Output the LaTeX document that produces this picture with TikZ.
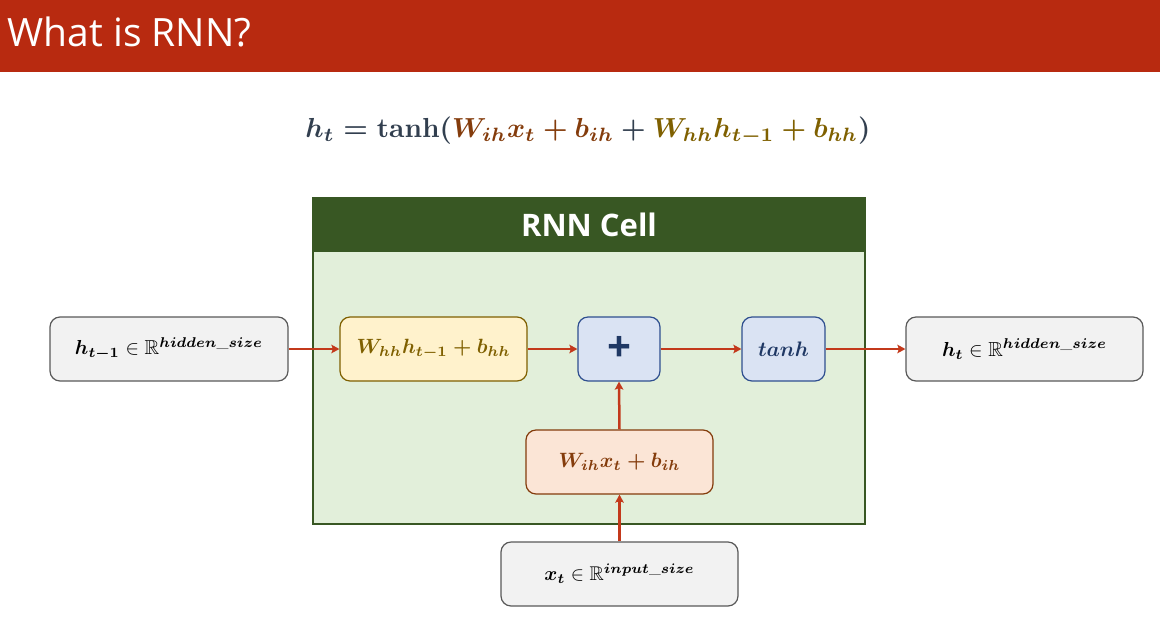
\documentclass[tikz,border=0pt]{standalone}
\usepackage{amsmath,amssymb}
\usepackage{graphicx}
\usepackage{fontspec}
\newfontfamily\titlefont{Open Sans}
\usetikzlibrary{arrows.meta}
\definecolor{hdrred}{HTML}{B82A10}
\definecolor{cellgreen}{HTML}{385723}
\definecolor{cellfill}{HTML}{E2EFDA}
\definecolor{graybox}{HTML}{F2F2F2}
\definecolor{grayline}{HTML}{595959}
\definecolor{yelfill}{HTML}{FFF2CC}
\definecolor{olivetxt}{HTML}{7F6000}
\definecolor{bluefill}{HTML}{DAE3F3}
\definecolor{blueline}{HTML}{2F4F8F}
\definecolor{navytxt}{HTML}{1F3864}
\definecolor{orfill}{HTML}{FBE5D6}
\definecolor{browntxt}{HTML}{843C0C}
\definecolor{arrred}{HTML}{C3391B}
\definecolor{eqdark}{HTML}{323F4F}
\newcommand{\fitw}[2]{\resizebox{#1pt}{!}{#2}}
\newcommand{\rnneq}{\fitw{565}{{\boldmath$\textcolor{eqdark}{h_t=\text{\bfseries tanh}\mathord{(}}\textcolor{browntxt}{W_{ih}x_t+b_{ih}}\mathbin{\textcolor{eqdark}{+}}\textcolor{olivetxt}{W_{hh}h_{t-1}+b_{hh}}\textcolor{eqdark}{\mathord{)}}$}}}
\newcommand{\hprevlbl}{\fitw{188}{$\boldsymbol{h_{t-1}}\in\mathbb{R}^{\boldsymbol{hidden\_size}}$}}
\newcommand{\houtlbl}{\fitw{165}{$\boldsymbol{h_{t}}\in\mathbb{R}^{\boldsymbol{hidden\_size}}$}}
\newcommand{\xinlbl}{\fitw{150}{$\boldsymbol{x_{t}}\in\mathbb{R}^{\boldsymbol{input\_size}}$}}
\newcommand{\whhlbl}{\fitw{154}{{\boldmath$W_{hh}h_{t-1}+b_{hh}$}}}
\newcommand{\wihlbl}{\fitw{122}{{\boldmath$W_{ih}x_t+b_{ih}$}}}
\newcommand{\tanhlbl}{\fitw{51}{{\boldmath$tanh$}}}
\begin{document}
\begin{tikzpicture}[x=1pt,y=-1pt,
  boxbase/.style={rectangle,rounded corners=10pt,line width=1.2pt,minimum height=64pt,inner sep=0pt},
  grayb/.style={boxbase,fill=graybox,draw=grayline,minimum width=237pt,text=black},
  yelb/.style={boxbase,fill=yelfill,draw=olivetxt,minimum width=187pt,text=olivetxt},
  orb/.style={boxbase,fill=orfill,draw=browntxt,minimum width=187pt,text=browntxt},
  blueb/.style={boxbase,fill=bluefill,draw=blueline,minimum width=82pt,text=navytxt},
  conn/.style={draw=arrred,color=arrred,line width=2.5pt,-{Stealth[length=8pt,width=8.5pt,inset=1.5pt]}}
]
\useasboundingbox (0,0) rectangle (1160,625);
\fill[hdrred] (0,0) rectangle (1160,72);
\node[anchor=west,text=white,font=\titlefont\fontsize{39}{44}\selectfont] (title) at (4,32) {What is RNN?};
\node (eqn) at (588,131) {\rnneq};
\draw[cellgreen,line width=2.5pt,fill=cellfill] (313,198) rectangle (865,524);
\fill[cellgreen] (313,198) rectangle (865,252);
\node[text=white,font=\titlefont\bfseries\fontsize{31}{34}\selectfont] (celltitle) at (589,225) {RNN Cell};
\node[grayb,minimum width=238pt] (hprev) at (169,349) {};
\node[yelb] (whh) at (433.5,349) {};
\node[blueb] (plus) at (619,349) {};
\node[blueb,minimum width=83pt] (tanhn) at (783.5,349) {};
\node[grayb] (hout) at (1024.5,349) {};
\node[orb] (wih) at (619.5,462) {};
\node[grayb] (xin) at (619.5,574) {};
\draw[conn] (xin.north) -- (wih.south);
\draw[conn] (wih.north) -- (plus.south);
\draw[conn] (hprev) -- (whh);
\draw[conn] (whh) -- (plus);
\draw[conn] (plus) -- (tanhn);
\draw[conn] (tanhn) -- (hout);
\node[text=black] (hprevt) at (hprev) {\hprevlbl};
\node[text=olivetxt] (whht) at (whh) {\whhlbl};
\node[text=navytxt,font=\titlefont\bfseries\fontsize{42}{44}\selectfont] (plust) at (plus) {+};
\node[text=navytxt] (tanht) at (tanhn) {\tanhlbl};
\node[text=black] (houtt) at (hout) {\houtlbl};
\node[text=browntxt] (wiht) at (wih) {\wihlbl};
\node[text=black] (xint) at (xin) {\xinlbl};
\end{tikzpicture}
\end{document}
